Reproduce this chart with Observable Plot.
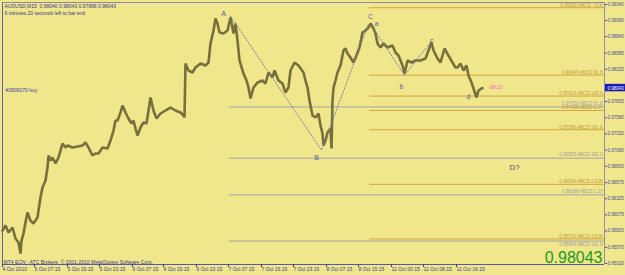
<!DOCTYPE html>
<html>
<head>
<meta charset="utf-8">
<script src="https://cdn.jsdelivr.net/npm/d3@7"></script>
<script src="https://cdn.jsdelivr.net/npm/@observablehq/plot@0.6"></script>
<style>
  html, body { margin: 0; padding: 0; background: #f0e68c; overflow: hidden; }
</style>
</head>
<body>
<div id="chart"></div>
<script>
// ---- data ----
const bars = [0,3,6,10,13,16,18,19,21,23,25,28,31,33,35,36,38,40,43,45,46,48,50,53,56,60,63,65,70,75,80,83,86,90,93,96,100,105,108,111,113,115,118,120,123,126,129,131,133,135,138,141,144,146,148,151,154,158,163,168,173,178,181,182,183,186,190,193,198,203,206,208,211,213,215,217,221,225,228,231,233,235,237,241,244,246,248,251,255,260,263,266,270,272,276,280,283,286,288,292,296,301,303,305,307,310,313,316,318,320,321,323,325,328,329,330,331,333,335,338,341,343,345,348,351,354,357,360,363,366,368,371,373,375,378,381,385,390,393,396,400,402,405,409,413,418,423,426,429,431,435,438,442,446,450,453,455,458,461,464,466,469,471,474,476,479,480];
const closes = [0.95832,0.95910,0.95801,0.95879,0.95708,0.95646,0.95475,0.95677,0.95786,0.95956,0.96112,0.95987,0.95941,0.95987,0.96034,0.96143,0.96344,0.96500,0.96608,0.96810,0.96996,0.96919,0.96965,0.96872,0.96965,0.97183,0.97121,0.97152,0.97121,0.97136,0.97152,0.97198,0.97121,0.96996,0.97027,0.97027,0.97121,0.97105,0.97229,0.97384,0.97540,0.97540,0.97664,0.97772,0.97664,0.97571,0.97493,0.97540,0.97415,0.97307,0.97431,0.97509,0.97493,0.97695,0.97897,0.97695,0.97571,0.97648,0.97695,0.97741,0.97695,0.97664,0.97617,0.97586,0.98424,0.98316,0.98285,0.98362,0.98424,0.98393,0.98440,0.98735,0.98936,0.99123,0.99045,0.98905,0.98890,0.98936,0.99138,0.98890,0.99045,0.98781,0.98471,0.98269,0.98160,0.98052,0.97881,0.98052,0.98129,0.98160,0.98114,0.98285,0.98207,0.98316,0.98160,0.98114,0.97974,0.98052,0.98316,0.98440,0.98393,0.98285,0.98160,0.98052,0.97850,0.97617,0.97586,0.97648,0.97462,0.97338,0.97152,0.97229,0.97353,0.97415,0.97105,0.97850,0.98052,0.98160,0.98285,0.98393,0.98626,0.98657,0.98580,0.98517,0.98440,0.98548,0.98673,0.98905,0.98936,0.98983,0.99045,0.98968,0.98890,0.98735,0.98673,0.98735,0.98673,0.98704,0.98595,0.98548,0.98393,0.98269,0.98471,0.98440,0.98471,0.98471,0.98502,0.98626,0.98750,0.98626,0.98502,0.98440,0.98657,0.98548,0.98440,0.98362,0.98362,0.98424,0.98316,0.98393,0.98238,0.98129,0.98036,0.97897,0.98005,0.98036,0.98043];

const currentPrice = 0.98043;
const headerText = "AUDUSD,M15  0.98040 0.98043 0.97996 0.98043\n6 minutes 20 seconds left to bar end";
const footerText = "MT4 ECN - ATC Brokers, \u00a9 2001-2010 MetaQuotes Software Corp.";
const orderText = "#2809070 buy";
const orderPrice = 0.98005;

// ABCD pattern pivots
const abcdBars = [228, 319, 366];
const abcdPrices = [0.99160, 0.97079, 0.99036];
const abcBars = [371, 402, 429];
const abcPrices = [0.98968, 0.98243, 0.98766];

// wave labels
const waveLabels = ["A", "B", "C", "a", "b", "c", "d"];
const waveLabelBars = [221, 314, 368, 374, 399, 429, 466];
const waveLabelPrices = [0.99200, 0.96965, 0.99154, 0.99045, 0.98067, 0.98781, 0.97912];
const targetLabel = "D?";
const targetBar = 512;
const targetPrice = 0.96810;
const timerLabel = "-08:20";
const timerBar = 493;
const timerPrice = 0.98052;

// projection levels
const goldLevels = [0.99290, 0.98243, 0.97919, 0.97695, 0.97396, 0.96549, 0.95702];
const goldNames = ["ABCD -.618", "ABCD 61.8", "ABCD 100.0", "ABCD 1.27", "ABCD 161.8", "ABCD 2.618", "ABCD 3.618"];
const grayLevels = [0.97750, 0.96955, 0.96386, 0.95669];
const grayNames = ["ABCD 61.8", "ABCD 100.0", "ABCD 1.27", "ABCD 161.8"];

// axes
const yTicks = [0.99340, 0.99090, 0.98840, 0.98585, 0.98335, 0.97835, 0.97580, 0.97330, 0.97080, 0.96830, 0.96575, 0.96325, 0.96075, 0.95825, 0.95570, 0.95320];
const xTickBars = [0, 32, 65, 97, 130, 161, 194, 226, 259, 291, 324, 356, 389, 421, 454];
const xTickLabels = ["4 Oct 2010", "5 Oct 07:15", "5 Oct 15:15", "5 Oct 23:15", "6 Oct 07:15", "6 Oct 15:15", "6 Oct 23:15", "7 Oct 07:15", "7 Oct 15:15", "7 Oct 23:15", "8 Oct 07:15", "8 Oct 15:15", "11 Oct 00:15", "11 Oct 08:15", "11 Oct 16:15"];

// ---- tables ----
const series = bars.map((b, i) => ({bar: b, close: closes[i]}));
const abcd = abcdBars.map((b, i) => ({bar: b, price: abcdPrices[i]}));
const abc = abcBars.map((b, i) => ({bar: b, price: abcPrices[i]}));
const waves = waveLabels.map((t, i) => ({t, bar: waveLabelBars[i], price: waveLabelPrices[i]}));
const gold = goldLevels.map((p, i) => ({p, label: p.toFixed(5) + " " + goldNames[i]}));
const gray = grayLevels.map((p, i) => ({p, label: p.toFixed(5) + " " + grayNames[i], last: i === grayLevels.length - 1}));
const xLabelMap = new Map(xTickBars.map((b, i) => [b, xTickLabels[i]]));

const xMax = 602;
const yDomain = [0.95305, 0.99371];
const goldStart = 367, grayStart = 227;

const chart = Plot.plot({
  width: 625,
  height: 275,
  marginTop: 2,
  marginBottom: 11,
  marginLeft: 2,
  marginRight: 21,
  x: {domain: [0, xMax], label: null},
  y: {domain: yDomain, label: null},
  style: {background: "#f0e68c", fontFamily: "Liberation Sans, Arial, sans-serif"},
  marks: [
    // projection lines
    Plot.ruleY(gray, {y: "p", x1: grayStart, x2: xMax, stroke: "#a4a4a8", strokeWidth: 1}),
    Plot.ruleY(gold, {y: "p", x1: goldStart, x2: xMax, stroke: "#d2a63a", strokeWidth: 1}),
    Plot.text(gray.filter(d => !d.last), {y: "p", x: xMax - 2, text: "label", textAnchor: "end", dy: -3.6, fontSize: 4.6, fill: "#a0a0a4"}),
    Plot.text(gray.filter(d => d.last), {y: "p", x: xMax - 2, text: "label", textAnchor: "end", dy: 3, fontSize: 4.6, fill: "#a0a0a4"}),
    Plot.text(gold, {y: "p", x: xMax - 2, text: "label", textAnchor: "end", dy: -2.6, fontSize: 4.6, fill: "#c09a3c"}),
    // price
    Plot.line(series, {x: "bar", y: "close", stroke: "#77703c", strokeWidth: 2.6, strokeLinejoin: "miter"}),
    // pattern dotted lines
    Plot.line(abcd, {x: "bar", y: "price", stroke: "#7878b0", strokeWidth: 1, strokeDasharray: "1.2,2"}),
    Plot.line(abc, {x: "bar", y: "price", stroke: "#7878b0", strokeWidth: 1, strokeDasharray: "1.2,2"}),
    Plot.text(waves, {x: "bar", y: "price", text: "t", fontSize: 7, fill: "#5c5c9c"}),
    Plot.text([targetLabel], {x: targetBar, y: targetPrice, text: d => d, fontSize: 8, fill: "#55557a"}),
    Plot.text([timerLabel], {x: timerBar, y: timerPrice, text: d => d, fontSize: 5, fill: "#f060d0"}),
    Plot.text([orderText], {x: 3, y: orderPrice, text: d => d, textAnchor: "start", fontSize: 5, fill: "#4040a0"}),
    // frame
    Plot.ruleY([yDomain[1]], {stroke: "#8a8aa8"}),
    Plot.ruleY([yDomain[0]], {stroke: "#5858a8"}),
    Plot.ruleX([0], {stroke: "#6060b0"}),
    Plot.ruleX([xMax], {stroke: "#9090a8"}),
    // axes
    Plot.axisY({ticks: yTicks, anchor: "right", label: null, tickSize: 2, tickPadding: 1, fontSize: 4.5, tickFormat: d3.format(".5f"), color: "#4a4a9a"}),
    Plot.axisX({ticks: xTickBars, tickFormat: d => xLabelMap.get(d), anchor: "bottom", label: null, tickSize: 3, tickPadding: 0, textAnchor: "start", fontSize: 5, color: "#3c3c90"}),
    // current price box
    Plot.rect([currentPrice], {x1: xMax + 1, x2: xMax + 21, y1: d => d - 0.00058, y2: d => d + 0.00058, fill: "#1a1ab8"}),
    Plot.text([currentPrice], {x: xMax + 3, y: d => d, text: d => d.toFixed(5), textAnchor: "start", fontSize: 4.5, fill: "white"}),
    // texts
    Plot.text([headerText], {frameAnchor: "top-left", dx: 2, dy: 1, lineAnchor: "top", lineHeight: 1.3, fontSize: 5, fill: "#3a3a8a"}),
    Plot.text([footerText], {frameAnchor: "bottom-left", dx: 1, dy: -1, lineAnchor: "bottom", fontSize: 5, fill: "#3a3a8a"}),
    Plot.text([currentPrice], {frameAnchor: "bottom-right", dx: -2, dy: -2, lineAnchor: "bottom", text: d => d.toFixed(5), fontSize: 16, fill: "#1c9a1c", textAnchor: "end", ariaLabel: "bigprice"})
  ]
});
document.getElementById("chart").appendChild(chart);
d3.select(chart).selectAll('g[aria-label="bigprice"] text')
  .attr("textLength", 51).attr("lengthAdjust", "spacingAndGlyphs");
</script>
</body>
</html>
